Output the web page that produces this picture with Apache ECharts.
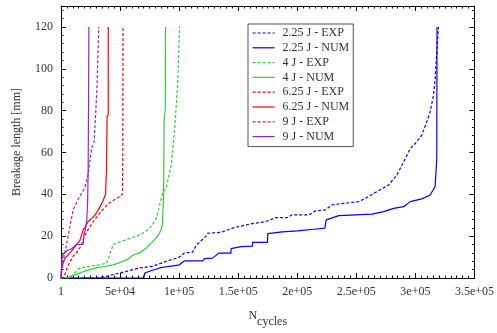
<!DOCTYPE html>
<html>
<head>
<meta charset="utf-8">
<script src="https://cdn.jsdelivr.net/npm/echarts@6/dist/echarts.min.js"></script>
<style>
  html, body { margin: 0; padding: 0; background: #ffffff; }
  #chart { width: 497px; height: 333px; }
</style>
</head>
<body>
<div id="chart"></div>
<script>
// Tick labels
const xTickLabels = ['1', '5e+04', '1e+05', '1.5e+05', '2e+05', '2.5e+05', '3e+05', '3.5e+05'];
const yTickLabels = ['0', '20', '40', '60', '80', '100', '120'];

// Series names and colours (legend order)
const seriesNames = ['2.25 J - EXP', '2.25 J - NUM', '4 J - EXP', '4 J - NUM',
                     '6.25 J - EXP', '6.25 J - NUM', '9 J - EXP', '9 J - NUM'];
const seriesColors = ['#0000ff', '#0000ff', '#33cc33', '#33cc33',
                      '#ff0000', '#ff0000', '#9b1fd6', '#9b1fd6'];

// Breakage length [mm] versus number of cycles
const exp225 = [[0,0],[30000,0],[38500,0.8],[49700,2.4],[66600,4.8],[77800,5.6],[89100,8],[100300,10],
  [104500,12],[111500,12.4],[114400,15.6],[122800,20],[124200,21.4],[135500,21.8],[146700,24.1],
  [159300,25.7],[173400,27],[181800,28.9],[191600,28.9],[195800,30.2],[209900,30.2],[215600,32.1],
  [224000,32.6],[229600,35],[252100,36.5],[260500,39],[267500,41.3],[277300,44.4],[284300,49.2],
  [291400,57],[295600,61.9],[299900,64.3],[305400,68.3],[309600,74.6],[312500,79.4],[315300,87.3],
  [316700,95.2],[318100,107.9],[319500,120]];
const num225 = [[0,0],[70000,0],[71000,2.4],[75000,3.2],[83500,4.8],[91900,5.6],[100300,6.3],
  [104500,8.2],[120000,8.2],[121400,9.3],[128400,9.5],[133500,11.9],[143900,11.9],[144000,14],
  [152300,15],[162100,15.2],[162200,17],[174800,17],[175000,21.2],[187400,22],[200000,22.5],
  [214100,23.3],[223400,23.8],[224500,27.8],[235200,29.8],[263300,30.5],[273100,31.7],[281600,33.3],
  [290000,34.1],[295600,36.5],[305400,37.8],[312500,39.7],[316700,43.7],[318100,57],[318300,120]];
const exp4 = [[0,0],[6000,0],[10400,1.5],[13000,3.5],[16000,4.8],[24500,5.6],[32000,6.3],[38500,7],
  [41300,11],[44100,16],[50000,17.3],[55400,18.3],[61000,19.5],[66600,20.6],[71000,22],[75000,23.8],
  [78000,26],[80700,28.6],[83500,35],[86200,41],[89000,43],[91000,48],[93300,54],[96100,70],
  [98900,94],[100300,120]];
const num4 = [[0,0],[5000,0],[9000,1],[14000,2],[18800,3],[24000,4],[30100,4.8],[37000,5.5],
  [44100,6.3],[48000,7],[52500,8],[57000,9],[60900,11],[66600,12],[72200,14.3],[77800,17.5],
  [81000,19.5],[83500,21.5],[85700,25],[86800,38],[87100,57],[87300,76],[88300,81],[88500,120]];
const exp625 = [[0,0],[2500,0.5],[6000,6],[10400,10.5],[14600,13],[17400,16],[20200,20.5],
  [24500,24.5],[28700,28],[34300,32],[40000,35.5],[47000,38],[50000,39],[52000,40],[52300,60],
  [52500,120]];
const num625 = [[0,0],[600,5],[3400,9.5],[6000,11],[9000,13],[11800,15],[14000,16.5],[16000,18],
  [18800,23],[21000,25],[23000,27],[26000,28.5],[28700,30],[31000,32],[32900,34],[35700,37],
  [37700,40],[38500,52],[39000,77],[40000,78],[40000,120]];
const exp9 = [[0,0],[700,4],[2500,10],[5000,17],[8000,26],[10500,33],[14000,37],[17000,40],
  [20000,43],[22500,48],[24500,56],[26000,62],[28000,65],[29500,80],[30500,92],[32000,120]];
const num9 = [[0,0],[300,4],[1000,10],[2000,11.5],[5000,13],[9000,14],[13000,16],[18800,16],
  [19200,20],[20500,23],[21700,27],[22500,35],[23000,52],[23300,82],[23600,120]];

const seriesData = [exp225, num225, exp4, num4, exp625, num625, exp9, num9];

const FONT = "'Liberation Serif', 'DejaVu Serif', serif";
const TEXT = '#333333';

const series = seriesNames.map((name, i) => ({
  name: name,
  type: 'line',
  data: seriesData[i],
  xAxisIndex: 0,
  yAxisIndex: 0,
  symbol: 'none',
  clip: true,
  lineStyle: {
    color: seriesColors[i],
    width: 1.2,
    type: i % 2 === 0 ? [3, 2] : 'solid'
  },
  itemStyle: { color: seriesColors[i] }
}));

// Frame axes: major and minor ticks on all four sides, pointing inward
function frameX(pos, interval, len, main) {
  return {
    type: 'value', position: pos, min: 0, max: 350000, interval: interval,
    axisLine: { show: main, onZero: false, lineStyle: { color: '#000', width: 1 } },
    axisTick: { show: true, inside: true, length: len, lineStyle: { color: '#000', width: 1 } },
    axisLabel: { show: false },
    splitLine: { show: false }
  };
}
function frameY(pos, interval, len, main) {
  return {
    type: 'value', position: pos, min: 0, max: 130, interval: interval,
    axisLine: { show: main, onZero: false, lineStyle: { color: '#000', width: 1 } },
    axisTick: { show: true, inside: true, length: len, lineStyle: { color: '#000', width: 1 } },
    axisLabel: { show: false },
    splitLine: { show: false }
  };
}

const xMain = frameX('bottom', 50000, 5, true);
xMain.axisLabel = {
  show: true, margin: 8, fontFamily: FONT, fontSize: 12, color: TEXT,
  formatter: v => {
    const k = v / 50000;
    return Number.isInteger(k) && xTickLabels[k] !== undefined ? xTickLabels[k] : '';
  }
};
xMain.name = '{n|N}{s|cycles}';
xMain.nameLocation = 'middle';
xMain.nameGap = 32;
xMain.nameTextStyle = {
  fontFamily: FONT, color: TEXT,
  rich: {
    n: { fontFamily: FONT, fontSize: 12, color: TEXT, verticalAlign: 'top', lineHeight: 18 },
    s: { fontFamily: FONT, fontSize: 12, color: TEXT, verticalAlign: 'bottom', lineHeight: 18, padding: [8, 0, 0, 0] }
  }
};

const yMain = frameY('left', 20, 5, true);
yMain.axisLabel = {
  show: true, margin: 8, fontFamily: FONT, fontSize: 12, color: TEXT,
  formatter: v => {
    const k = v / 20;
    return Number.isInteger(k) && yTickLabels[k] !== undefined ? yTickLabels[k] : '';
  }
};
yMain.name = 'Breakage length [mm]';
yMain.nameLocation = 'middle';
yMain.nameGap = 38;
yMain.nameTextStyle = { fontFamily: FONT, fontSize: 12, color: TEXT };

const option = {
  animation: false,
  backgroundColor: '#ffffff',
  grid: { left: 61, right: 20, top: 6, bottom: 53, containLabel: false },
  xAxis: [
    xMain,
    frameX('bottom', 5000, 2.5, false),
    frameX('top', 50000, 5, true),
    frameX('top', 5000, 2.5, false)
  ],
  yAxis: [
    yMain,
    frameY('left', 4, 2.5, false),
    frameY('right', 20, 5, true),
    frameY('right', 4, 2.5, false)
  ],
  legend: {
    orient: 'vertical',
    left: 248,
    top: 24,
    padding: [2, 4, 3, 4],
    itemWidth: 22,
    itemHeight: 10,
    itemGap: 0.8,
    backgroundColor: '#ffffff',
    borderColor: '#555555',
    borderWidth: 1,
    borderRadius: 0,
    selectedMode: false,
    itemStyle: { opacity: 0 },
    lineStyle: { width: 1.2 },
    data: seriesNames,
    textStyle: { fontFamily: FONT, fontSize: 12, color: TEXT, lineHeight: 14, padding: [0, 0, 0, 3] }
  },
  series: series
};

const chart = echarts.init(document.getElementById('chart'), null, { renderer: 'canvas' });
chart.setOption(option);
</script>
</body>
</html>
